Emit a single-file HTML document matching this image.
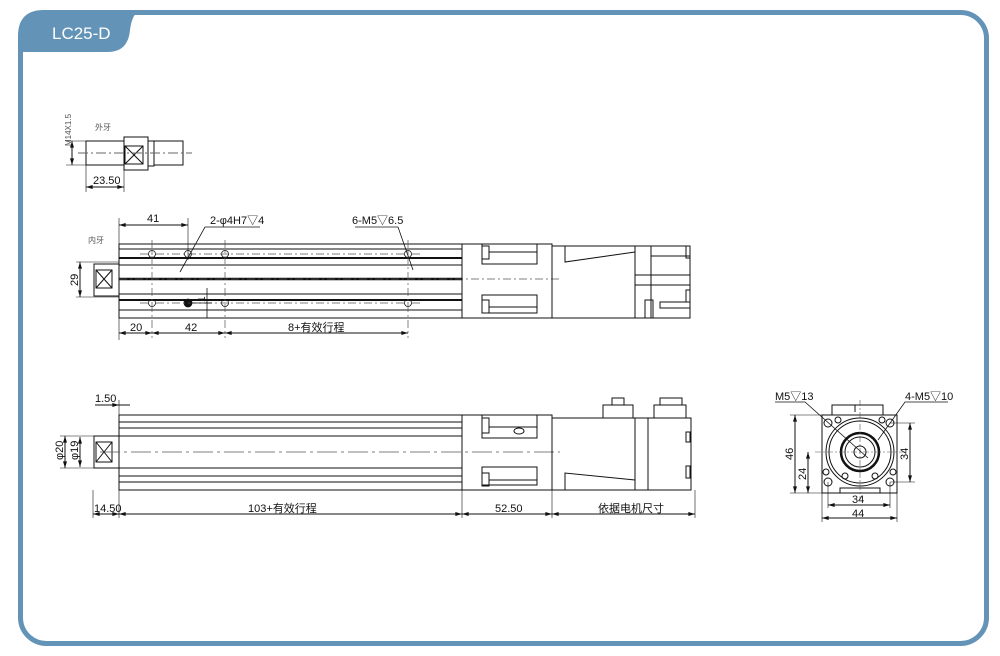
<!DOCTYPE html>
<html><head><meta charset="utf-8"><style>
html,body{margin:0;padding:0;background:#fff;}
svg{display:block;}
text{font-family:"Liberation Sans","Noto Sans CJK SC",sans-serif;fill:#111;}
</style></head><body>
<svg width="1000" height="656" viewBox="0 0 1000 656" xmlns="http://www.w3.org/2000/svg">
<defs>
<marker id="a" viewBox="0 0 10 6" refX="10" refY="3" markerWidth="8" markerHeight="4" orient="auto-start-reverse"><path d="M0,0L10,3L0,6z" fill="#111"/></marker>
</defs>
<!-- frame -->
<rect x="20.5" y="12.5" width="966" height="631" rx="26" fill="#fff" stroke="#6393b6" stroke-width="5"/>
<path d="M18,52 L18,36 Q18,10 44,10 L140,10 Q132,14 130,30 Q128,52 108,52 Z" fill="#6393b6"/>
<text x="52" y="39" font-size="17" style="fill:#fff">LC25-D</text>

<g stroke="#111" stroke-width="1" fill="none">
<!-- small top view -->
<line x1="72" y1="141" x2="72" y2="165" marker-start="url(#a)" marker-end="url(#a)"/>
<line x1="66" y1="141" x2="86" y2="141" stroke-width="0.6"/>
<line x1="66" y1="165" x2="86" y2="165" stroke-width="0.6"/>
<rect x="86" y="141" width="38" height="24"/>
<rect x="124" y="137" width="24" height="33"/>
<path d="M125,146 L143,164 M143,146 L125,164"/>
<rect x="125" y="146" width="18" height="18"/>
<rect x="148" y="141" width="6" height="25"/>
<rect x="154" y="141" width="29" height="24"/>
<line x1="78" y1="153" x2="192" y2="153" stroke="#666" stroke-dasharray="10,3,2,3"/>
<line x1="86" y1="165" x2="86" y2="192" stroke-width="0.6"/>
<line x1="124" y1="170" x2="124" y2="192" stroke-width="0.6"/>
<line x1="86" y1="187" x2="124" y2="187" marker-start="url(#a)" marker-end="url(#a)"/>

<!-- middle view -->
<rect x="119" y="244" width="343" height="74"/>
<line x1="119" y1="249" x2="462" y2="249"/>
<line x1="119" y1="258" x2="462" y2="258" stroke-width="2"/>
<line x1="119" y1="265" x2="462" y2="265"/>
<line x1="119" y1="279" x2="462" y2="279" stroke-width="2.5"/>
<line x1="119" y1="294" x2="462" y2="294"/>
<line x1="119" y1="300" x2="462" y2="300" stroke-width="2"/>
<line x1="119" y1="310" x2="462" y2="310"/>
<rect x="94" y="264" width="25" height="32"/>
<path d="M96,270 L112,288 M112,270 L96,288"/>
<rect x="96" y="270" width="16" height="18"/>
<line x1="80" y1="262" x2="80" y2="297" marker-start="url(#a)" marker-end="url(#a)"/>
<line x1="76" y1="262" x2="119" y2="262" stroke-width="0.6"/>
<line x1="76" y1="297" x2="119" y2="297" stroke-width="0.6"/>
<g stroke-width="0.8">
<circle cx="152" cy="254" r="3.5"/><circle cx="188" cy="254" r="3.5"/><circle cx="225" cy="254" r="3.5"/><circle cx="408" cy="254" r="3.5"/>
<circle cx="152" cy="303" r="3.5"/><circle cx="188" cy="303" r="4" fill="#111"/><circle cx="225" cy="303" r="3.5"/><circle cx="408" cy="303" r="3.5"/>
</g>
<g stroke="#555" stroke-width="0.7" stroke-dasharray="8,3,2,3">
<line x1="140" y1="254" x2="420" y2="254"/><line x1="140" y1="303" x2="420" y2="303"/>
<line x1="119" y1="279" x2="560" y2="279"/>
<line x1="152" y1="240" x2="152" y2="338"/><line x1="225" y1="240" x2="225" y2="338"/><line x1="408" y1="240" x2="408" y2="338"/>
</g>
<line x1="188" y1="218" x2="188" y2="260" stroke-width="0.6"/>
<line x1="119" y1="218" x2="119" y2="340" stroke-width="0.6"/>
<line x1="119" y1="225" x2="188" y2="225" marker-start="url(#a)" marker-end="url(#a)"/>
<line x1="119" y1="333" x2="152" y2="333" marker-start="url(#a)" marker-end="url(#a)"/>
<line x1="152" y1="333" x2="225" y2="333" marker-start="url(#a)" marker-end="url(#a)"/>
<line x1="225" y1="333" x2="408" y2="333" marker-start="url(#a)" marker-end="url(#a)"/>
<path d="M260,227 L205,227 L180,272" stroke-width="0.8"/>
<path d="M398,227 L355,227" stroke-width="0.8"/>
<path d="M398,227 L413,270" stroke-width="0.8"/>
<line x1="207" y1="288" x2="207" y2="318" stroke-width="0.8"/>
<line x1="190" y1="303" x2="212" y2="303" stroke-width="0.8"/>
<!-- block middle -->
<rect x="462" y="244" width="90" height="74"/>
<rect x="482" y="244" width="55" height="20"/><rect x="482" y="295" width="55" height="18"/>
<rect x="482" y="246" width="7" height="13"/><rect x="482" y="300" width="7" height="13"/>
<line x1="489" y1="252" x2="537" y2="252"/><line x1="489" y1="307" x2="537" y2="307"/>
<!-- motor middle -->
<path d="M552,246 L635,246 L635,318 L552,318"/>
<path d="M565,246 L565,262 L635,252"/>
<rect x="635" y="246" width="55" height="72"/>
<line x1="651" y1="246" x2="651" y2="318"/>
<line x1="651" y1="256" x2="690" y2="256"/>
<line x1="635" y1="275" x2="690" y2="275"/><line x1="635" y1="285" x2="690" y2="285"/>
<rect x="686" y="246" width="4" height="12"/><rect x="686" y="290" width="4" height="12"/>
<rect x="645" y="300" width="8" height="18"/><rect x="660" y="302" width="30" height="6"/>

<!-- bottom view -->
<rect x="119" y="415" width="343" height="75"/>
<line x1="119" y1="422" x2="462" y2="422"/><line x1="119" y1="428" x2="462" y2="428"/>
<line x1="119" y1="436" x2="462" y2="436"/><line x1="119" y1="468" x2="462" y2="468"/>
<line x1="119" y1="476" x2="462" y2="476"/><line x1="119" y1="482" x2="462" y2="482"/>
<rect x="94" y="436" width="25" height="32"/>
<path d="M96,442 L112,462 M112,442 L96,462"/><rect x="96" y="442" width="16" height="20"/>
<line x1="119" y1="400" x2="119" y2="436" stroke-width="0.6"/>
<line x1="95" y1="405" x2="119" y2="405" marker-end="url(#a)"/>
<line x1="119" y1="405" x2="130" y2="405"/>
<line x1="65" y1="436" x2="65" y2="468" marker-start="url(#a)" marker-end="url(#a)"/>
<line x1="80" y1="437" x2="80" y2="467" marker-start="url(#a)" marker-end="url(#a)"/>
<line x1="60" y1="436" x2="94" y2="436" stroke-width="0.6"/><line x1="60" y1="468" x2="94" y2="468" stroke-width="0.6"/>
<line x1="100" y1="452" x2="560" y2="452" stroke="#555" stroke-width="0.7" stroke-dasharray="20,4,3,4"/>
<rect x="462" y="415" width="90" height="75"/>
<rect x="482" y="415" width="55" height="23"/><rect x="482" y="467" width="55" height="18"/>
<rect x="482" y="418" width="7" height="15"/><rect x="482" y="473" width="7" height="13"/>
<line x1="489" y1="427" x2="537" y2="427"/><line x1="489" y1="480" x2="537" y2="480"/>
<ellipse cx="519" cy="431" rx="5" ry="3"/>
<path d="M552,418 L635,418 L635,490 L552,490"/>
<path d="M565,490 L565,473 L635,480"/>
<rect x="603" y="405" width="30" height="13"/><rect x="612" y="398" width="12" height="7"/>
<rect x="635" y="418" width="56" height="72"/>
<line x1="648" y1="418" x2="648" y2="490"/>
<rect x="654" y="405" width="32" height="13"/><rect x="660" y="398" width="22" height="7"/>
<rect x="686" y="432" width="4" height="10"/><rect x="686" y="466" width="4" height="12"/>
<line x1="93" y1="490" x2="93" y2="518" stroke-width="0.6"/>
<line x1="119" y1="490" x2="119" y2="518" stroke-width="0.6"/>
<line x1="462" y1="490" x2="462" y2="518" stroke-width="0.6"/>
<line x1="552" y1="490" x2="552" y2="518" stroke-width="0.6"/>
<line x1="695" y1="490" x2="695" y2="518" stroke-width="0.6"/>
<line x1="93" y1="514" x2="119" y2="514" marker-start="url(#a)" marker-end="url(#a)"/>
<line x1="119" y1="514" x2="462" y2="514" marker-start="url(#a)" marker-end="url(#a)"/>
<line x1="462" y1="514" x2="552" y2="514" marker-start="url(#a)" marker-end="url(#a)"/>
<line x1="552" y1="514" x2="695" y2="514" marker-start="url(#a)" marker-end="url(#a)"/>

<!-- end view -->
<rect x="822" y="415" width="75" height="78"/>
<rect x="832" y="405" width="51" height="10"/>
<line x1="855" y1="405" x2="855" y2="412"/>
<rect x="840" y="488" width="40" height="5"/>
<circle cx="860" cy="452" r="34"/><circle cx="860" cy="452" r="31"/>
<circle cx="860" cy="452" r="19" stroke-width="2.5"/><circle cx="860" cy="452" r="15"/>
<circle cx="860" cy="452" r="6"/>
<circle cx="828" cy="423" r="4"/><circle cx="890" cy="423" r="4"/><circle cx="828" cy="482" r="4"/><circle cx="890" cy="482" r="4"/>
<circle cx="838" cy="420" r="3"/><circle cx="882" cy="420" r="3"/><circle cx="845" cy="476" r="3"/><circle cx="875" cy="476" r="3"/>
<circle cx="826" cy="472" r="3"/><circle cx="893" cy="472" r="3"/>
<g stroke="#555" stroke-width="0.6" stroke-dasharray="6,2,2,2">
<line x1="815" y1="452" x2="905" y2="452"/><line x1="860" y1="400" x2="860" y2="500"/>
</g>
<path d="M775,402 L805,402 L868,458" stroke-width="0.8"/>
<path d="M948,402 L905,402 L878,440" stroke-width="0.8"/>
<line x1="795" y1="415" x2="795" y2="493" marker-start="url(#a)" marker-end="url(#a)"/>
<line x1="808" y1="452" x2="808" y2="493" marker-start="url(#a)" marker-end="url(#a)"/>
<line x1="790" y1="415" x2="822" y2="415" stroke-width="0.6"/>
<line x1="790" y1="493" x2="822" y2="493" stroke-width="0.6"/>
<line x1="910" y1="423" x2="910" y2="482" marker-start="url(#a)" marker-end="url(#a)"/>
<line x1="890" y1="423" x2="915" y2="423" stroke-width="0.6"/><line x1="890" y1="482" x2="915" y2="482" stroke-width="0.6"/>
<line x1="828" y1="482" x2="828" y2="508" stroke-width="0.6"/><line x1="890" y1="482" x2="890" y2="508" stroke-width="0.6"/>
<line x1="822" y1="493" x2="822" y2="522" stroke-width="0.6"/><line x1="897" y1="493" x2="897" y2="522" stroke-width="0.6"/>
<line x1="828" y1="505" x2="890" y2="505" marker-start="url(#a)" marker-end="url(#a)"/>
<line x1="822" y1="518" x2="897" y2="518" marker-start="url(#a)" marker-end="url(#a)"/>
</g>

<g font-size="11">
<text x="71" y="146" font-size="8" transform="rotate(-90 71 146)" style="fill:#555">M14X1.5</text>
<text x="95" y="130" font-size="8" style="fill:#555">外牙</text>
<text x="93" y="184">23.50</text>
<text x="88" y="243" font-size="8" style="fill:#555">内牙</text>
<text x="147" y="222">41</text>
<text x="210" y="224">2-φ4H7▽4</text>
<text x="352" y="224">6-M5▽6.5</text>
<text x="78" y="286" transform="rotate(-90 78 286)">29</text>
<text x="205" y="302" transform="rotate(-90 205 302)" font-size="10">1</text>
<text x="130" y="331">20</text>
<text x="185" y="331">42</text>
<text x="288" y="331">8+有效行程</text>
<text x="95" y="402">1.50</text>
<text x="63" y="460" transform="rotate(-90 63 460)">φ20</text>
<text x="78" y="460" transform="rotate(-90 78 460)">φ19</text>
<text x="94" y="512">14.50</text>
<text x="248" y="512">103+有效行程</text>
<text x="495" y="512">52.50</text>
<text x="598" y="512">依据电机尺寸</text>
<text x="775" y="400">M5▽13</text>
<text x="905" y="400">4-M5▽10</text>
<text x="793" y="460" transform="rotate(-90 793 460)">46</text>
<text x="806" y="480" transform="rotate(-90 806 480)">24</text>
<text x="908" y="460" transform="rotate(-90 908 460)">34</text>
<text x="852" y="503">34</text>
<text x="852" y="517">44</text>
</g>
</svg>
</body></html>
